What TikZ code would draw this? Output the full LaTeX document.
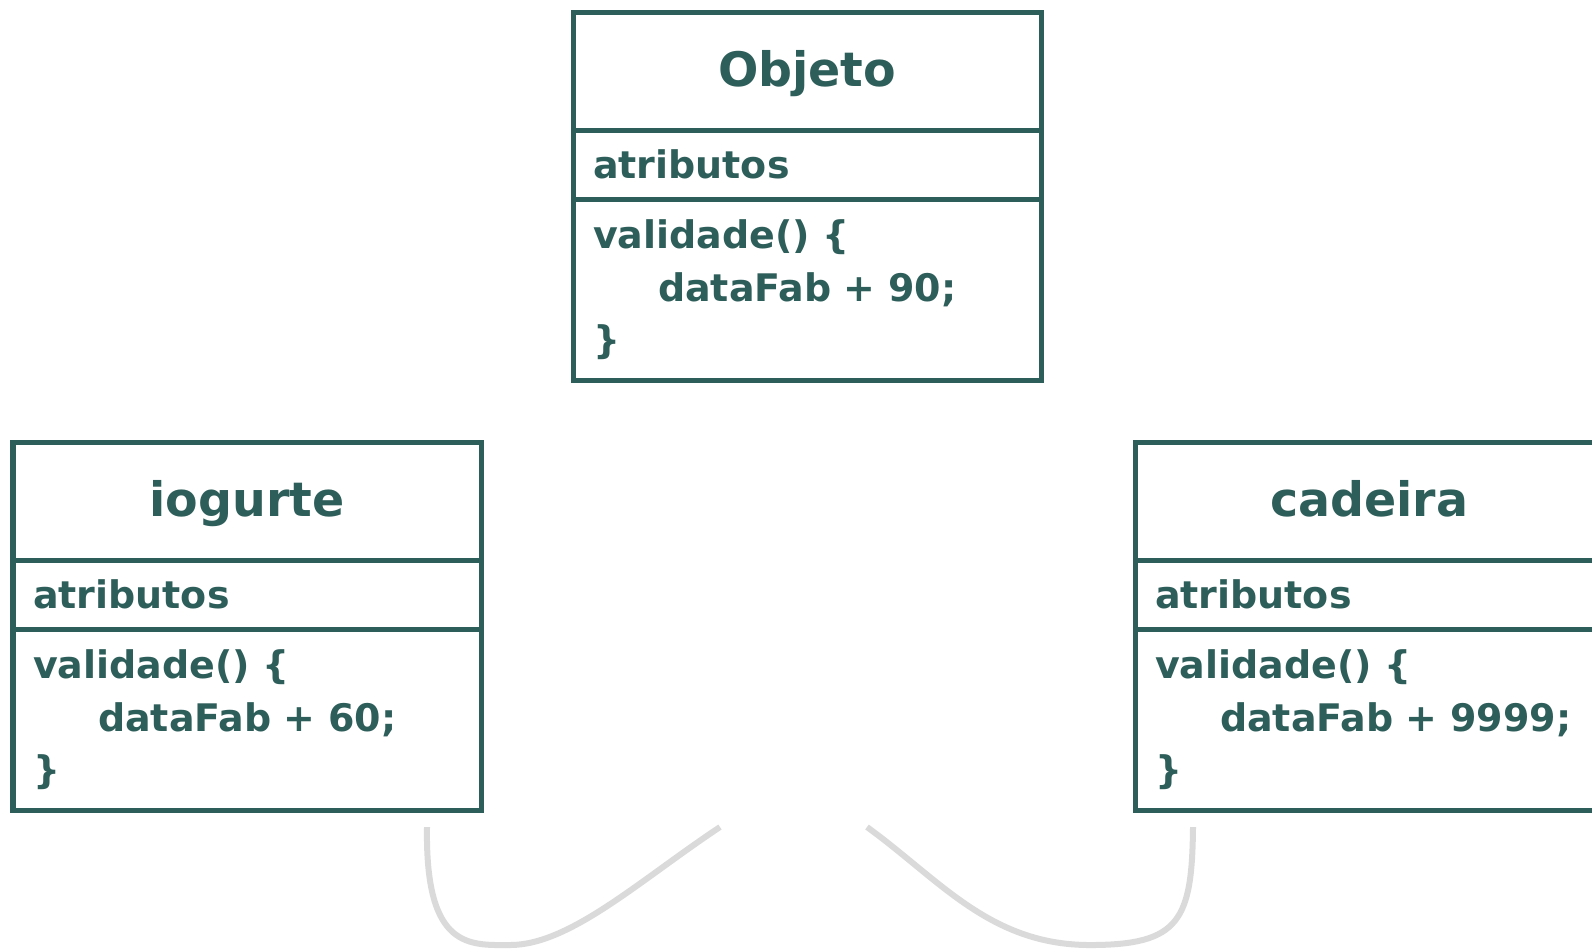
\documentclass[tikz,border=0pt]{standalone}
\usepackage{fontspec}
\setmainfont{DejaVu Sans}
\usetikzlibrary{positioning}
\definecolor{classteal}{HTML}{2E5E5A}
\definecolor{curvegray}{HTML}{DADADA}
\begin{document}
\begin{tikzpicture}[x=0.01cm, y=-0.01cm,
  every node/.style = {draw=classteal, line width=0.05cm, outer sep=0pt, text=classteal,
    font=\fontsize{10.8}{14.8}\selectfont\bfseries},
  classname/.style = {minimum width=4.68cm, minimum height=1.18cm, text height=1.1em,
    text depth=0.2em, font=\fontsize{13.5}{16}\selectfont\bfseries},
  classattr/.style = {text width=4.28cm, inner xsep=0.2cm, minimum height=0.69cm, align=left},
  classops/.style = {classattr, minimum height=1.81cm},
  linkcurve/.style = {draw=curvegray, line width=0.06cm}]
  \clip (0,0) rectangle (1592,950);
  \node[classname, anchor=north west] (objname) at (573,12) {Objeto};
  \node[classattr, below=0pt of objname] (objattr) {atributos};
  \node[classops, below=0pt of objattr] (objops)
    {validade() \{\\\hspace*{0.65cm}dataFab + 90;\\\}};
  \node[classname, anchor=north west] (iogname) at (13,442) {iogurte};
  \node[classattr, below=0pt of iogname] (iogattr) {atributos};
  \node[classops, below=0pt of iogattr] (iogops)
    {validade() \{\\\hspace*{0.65cm}dataFab + 60;\\\}};
  \node[classname, anchor=north west] (cadname) at (1135,442) {cadeira};
  \node[classattr, below=0pt of cadname] (cadattr) {atributos};
  \node[classops, below=0pt of cadattr] (cadops)
    {validade() \{\\\hspace*{0.65cm}dataFab + 9999;\\\}};
  \coordinate (leftstart) at (427,827);
  \coordinate (leftend) at (720,827);
  \coordinate (rightstart) at (867,827);
  \coordinate (rightend) at (1193,827);
  \draw[linkcurve] (leftstart) .. controls (425,950) and (470,945) .. (510,945)
    .. controls (570,945) and (640,880) .. (leftend);
  \draw[linkcurve] (rightstart) .. controls (940,880) and (990,945) .. (1090,945)
    .. controls (1180,945) and (1192,920) .. (rightend);
\end{tikzpicture}
\end{document}
